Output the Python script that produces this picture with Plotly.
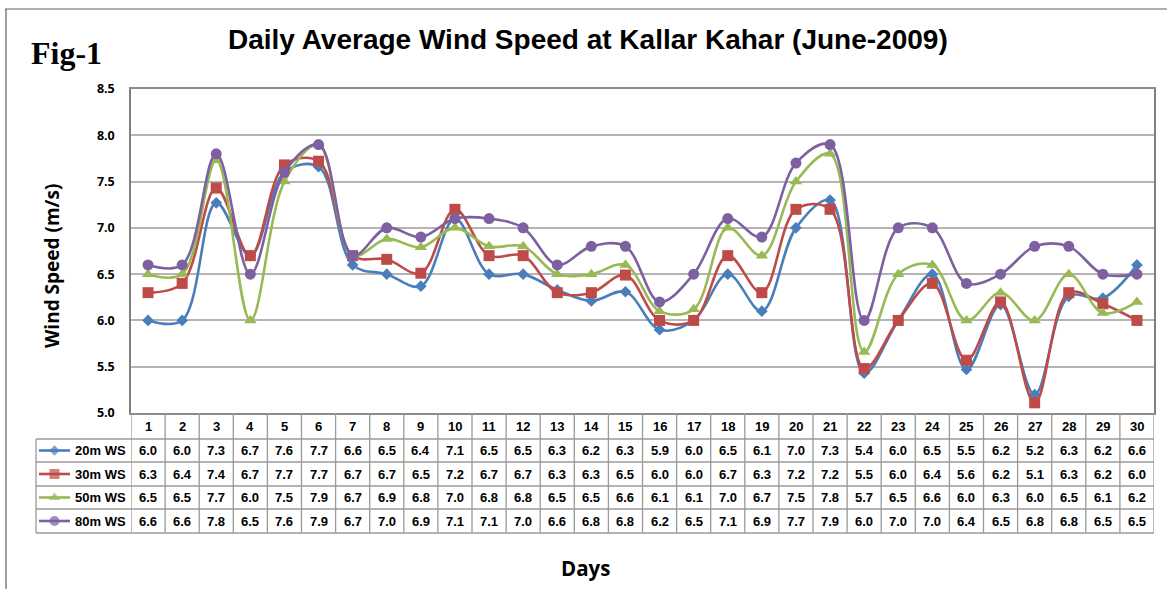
import plotly.graph_objects as go

# ---------------- data ----------------
days = list(range(1, 31))
series_names = ["20m WS", "30m WS", "50m WS", "80m WS"]
ws20 = [6.0, 6.0, 7.27, 6.7, 7.6, 7.66, 6.6, 6.5, 6.37, 7.1, 6.5, 6.5, 6.33, 6.21, 6.31,
        5.9, 6.0, 6.5, 6.1, 7.0, 7.3, 5.43, 6.0, 6.5, 5.47, 6.17, 5.2, 6.26, 6.24, 6.6]
ws30 = [6.3, 6.4, 7.43, 6.7, 7.68, 7.72, 6.7, 6.66, 6.51, 7.2, 6.7, 6.7, 6.3, 6.3, 6.49,
        6.0, 6.0, 6.7, 6.3, 7.2, 7.2, 5.48, 6.0, 6.4, 5.57, 6.2, 5.11, 6.3, 6.18, 6.0]
ws50 = [6.5, 6.5, 7.73, 6.0, 7.5, 7.9, 6.7, 6.88, 6.79, 7.0, 6.8, 6.8, 6.5, 6.5, 6.6,
        6.1, 6.12, 7.0, 6.7, 7.5, 7.8, 5.66, 6.5, 6.6, 6.0, 6.3, 6.0, 6.5, 6.08, 6.2]
ws80 = [6.6, 6.6, 7.8, 6.5, 7.6, 7.9, 6.7, 7.0, 6.9, 7.1, 7.1, 7.0, 6.6, 6.8, 6.8,
        6.2, 6.5, 7.1, 6.9, 7.7, 7.9, 6.0, 7.0, 7.0, 6.4, 6.5, 6.8, 6.8, 6.5, 6.5]
y_ticks = [5.0, 5.5, 6.0, 6.5, 7.0, 7.5, 8.0, 8.5]

# ---------------- styles ----------------
W, H = 1167, 589
colors = ["#4A7EBB", "#BE4B48", "#98B954", "#7D60A0"]
symbols = ["diamond", "square", "triangle-up", "circle"]
msizes = [9, 11, 11, 11]
all_series = [ws20, ws30, ws50, ws80]

def px(x):
    return x / W

def py(y):
    return 1 - y / H

PL, PR, PT, PB = 131, 1154, 89, 413
TL = 36
row_lines = [439, 462, 486, 509, 533]
grid_col = "#9A9A9A"

fig = go.Figure()

for name, vals, c, s, ms in zip(series_names, all_series, colors, symbols, msizes):
    fig.add_trace(go.Scatter(
        x=days, y=vals, name=name, mode="lines+markers",
        line=dict(color=c, width=2.6, shape="spline", smoothing=1.0),
        marker=dict(symbol=s, size=ms, color=c, line=dict(width=0)),
        showlegend=False, xaxis="x", yaxis="y", cliponaxis=False,
    ))

# legend keys in table (overlay pixel axes)
for i, (c, s, ms) in enumerate(zip(colors, symbols, msizes)):
    yc = (row_lines[i] + row_lines[i + 1]) / 2
    fig.add_trace(go.Scatter(
        x=[39, 54.5, 70], y=[yc, yc, yc], mode="lines+markers",
        line=dict(color=c, width=2.6),
        marker=dict(symbol=s, size=[0, ms - 1, 0], color=c, line=dict(width=0)),
        showlegend=False, xaxis="x2", yaxis="y2", hoverinfo="skip",
    ))

fig.update_layout(
    width=W, height=H,
    margin=dict(l=0, r=0, t=0, b=0, autoexpand=False),
    paper_bgcolor="white", plot_bgcolor="rgba(0,0,0,0)",
    xaxis=dict(domain=[px(PL), px(PR)], range=[0.5, 30.5], showticklabels=False,
               showgrid=False, zeroline=False, showline=True, linecolor="#8C8C8C",
               linewidth=1.5, mirror=True, ticks="", fixedrange=True, automargin=False),
    yaxis=dict(domain=[py(PB), py(PT)], range=[5.0, 8.5], tickvals=y_ticks,
               ticktext=[f"{v:.1f}" for v in y_ticks],
               showgrid=True, gridcolor="#B4B4B4", gridwidth=1.5, zeroline=False,
               showline=True, linecolor="#7F7F7F", linewidth=1.5, mirror=True,
               ticks="", ticklabelstandoff=12, automargin=False,
               tickfont=dict(family="Open Sans", size=12.5, color="#000000", weight="bold"),
               fixedrange=True),
    xaxis2=dict(domain=[0, 1], range=[0, W], visible=False, showticklabels=False,
                showgrid=False, zeroline=False, automargin=False, fixedrange=True),
    yaxis2=dict(domain=[0, 1], range=[H, 0], visible=False, showticklabels=False,
                showgrid=False, zeroline=False, automargin=False, fixedrange=True),
)

shapes = []
# outer frame
shapes.append(dict(type="line", xref="paper", yref="paper", x0=px(5), x1=1, y0=py(9), y1=py(9),
                   line=dict(color="#606060", width=1.2)))
shapes.append(dict(type="line", xref="paper", yref="paper", x0=px(6), x1=px(6), y0=py(9), y1=0,
                   line=dict(color="#606060", width=1.2)))
# table horizontal lines
for r in row_lines:
    shapes.append(dict(type="line", xref="paper", yref="paper", x0=px(TL), x1=px(PR),
                       y0=py(r), y1=py(r), line=dict(color=grid_col, width=1.3)))
shapes.append(dict(type="line", xref="paper", yref="paper", x0=px(TL), x1=px(TL),
                   y0=py(row_lines[0]), y1=py(row_lines[-1]), line=dict(color=grid_col, width=1.3)))
# table vertical lines (category boundaries)
for k in range(len(days) + 1):
    shapes.append(dict(type="line", xref="x", yref="paper", x0=k + 0.5, x1=k + 0.5,
                       y0=py(PB), y1=py(row_lines[-1]), line=dict(color=grid_col, width=1.3)))
fig.update_layout(shapes=shapes)

ann = []
tfont = dict(family="Liberation Sans", size=13, color="#000000", weight="bold")
for d in days:
    ann.append(dict(x=d, y=py((PB + row_lines[0]) / 2), xref="x", yref="paper", text=str(d),
                    showarrow=False, font=tfont, xanchor="center", yanchor="middle"))
for i, (name, vals) in enumerate(zip(series_names, all_series)):
    yc = py((row_lines[i] + row_lines[i + 1]) / 2)
    ann.append(dict(x=px(128), y=yc, xref="paper", yref="paper", text=name, showarrow=False,
                    font=tfont, xanchor="right", yanchor="middle"))
    for d, v in zip(days, vals):
        ann.append(dict(x=d, y=yc, xref="x", yref="paper", text=f"{v:.1f}", showarrow=False,
                        font=tfont, xanchor="center", yanchor="middle"))

ann.append(dict(x=px(588), y=py(40), xref="paper", yref="paper",
                text="Daily Average Wind Speed at Kallar Kahar (June-2009)", showarrow=False,
                font=dict(family="Liberation Sans", size=28, color="#000000", weight="bold"),
                xanchor="center", yanchor="middle"))
ann.append(dict(x=px(29), y=py(53), xref="paper", yref="paper", text="Fig-1", showarrow=False,
                font=dict(family="Liberation Serif", size=32, color="#000000", weight="bold"),
                xanchor="left", yanchor="middle"))
ann.append(dict(x=px(52), y=py(266), xref="paper", yref="paper", text="Wind Speed (m/s)",
                showarrow=False, textangle=-90,
                font=dict(family="Open Sans", size=19, color="#000000", weight="bold"),
                xanchor="center", yanchor="middle"))
ann.append(dict(x=px(585), y=py(568), xref="paper", yref="paper", text="Days", showarrow=False,
                font=dict(family="Open Sans", size=20.5, color="#000000", weight="bold"),
                xanchor="center", yanchor="middle"))
fig.update_layout(annotations=ann)

fig.write_html("out.html", config={"displayModeBar": False},
               post_script="document.body.style.margin='0px';document.body.style.padding='0px';")
